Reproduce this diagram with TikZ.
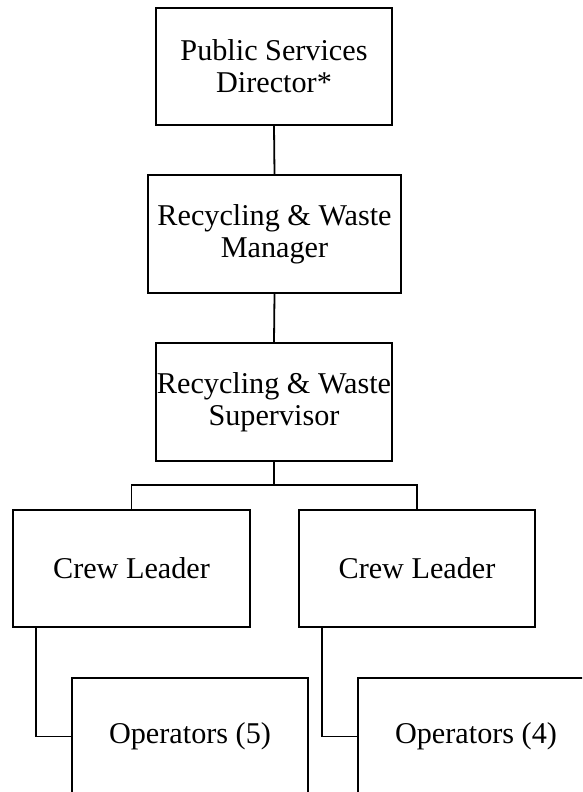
\documentclass[tikz,border=0pt]{standalone}
\usepackage{fontspec}
\setmainfont{Liberation Serif}
\begin{document}
\begin{tikzpicture}[x=1pt,y=-1pt,
  orgbox/.style={draw, line width=1.8pt, rectangle, inner sep=0pt,
    minimum width=236pt, minimum height=117pt, align=center,
    font=\fontsize{30.2}{32}\selectfont},
  link/.style={line width=1.8pt}]
\useasboundingbox (0,0) rectangle (582,792);
\clip (0,0) rectangle (582,792);
\node[orgbox] (dir) at (274,66.5) {Public Services\\Director*};
\node[orgbox, minimum width=253pt, minimum height=118pt] (mgr) at (274.5,234) {Recycling \& Waste\\Manager};
\node[orgbox, minimum height=118pt] (sup) at (274,402) {Recycling \& Waste\\Supervisor};
\node[orgbox, minimum width=237pt] (cl1) at (131.5,568.5) {Crew Leader};
\node[orgbox] (cl2) at (417,568.5) {Crew Leader};
\node[orgbox] (op1) at (190,736.5) {Operators (5)};
\node[orgbox] (op2) at (476,736.5) {Operators (4)};
\coordinate (split) at (274,485);
\draw[link] (dir.south) -- (mgr.north);
\draw[link] (mgr.south) -- (sup.north);
\draw[link] (sup.south) -- (split);
\draw[link] (split) -| (cl1.north);
\draw[link] (split) -| (cl2.north);
\draw[link] ([xshift=24pt]cl1.south west) |- (op1.west);
\draw[link] ([xshift=24pt]cl2.south west) |- (op2.west);
\end{tikzpicture}
\end{document}
